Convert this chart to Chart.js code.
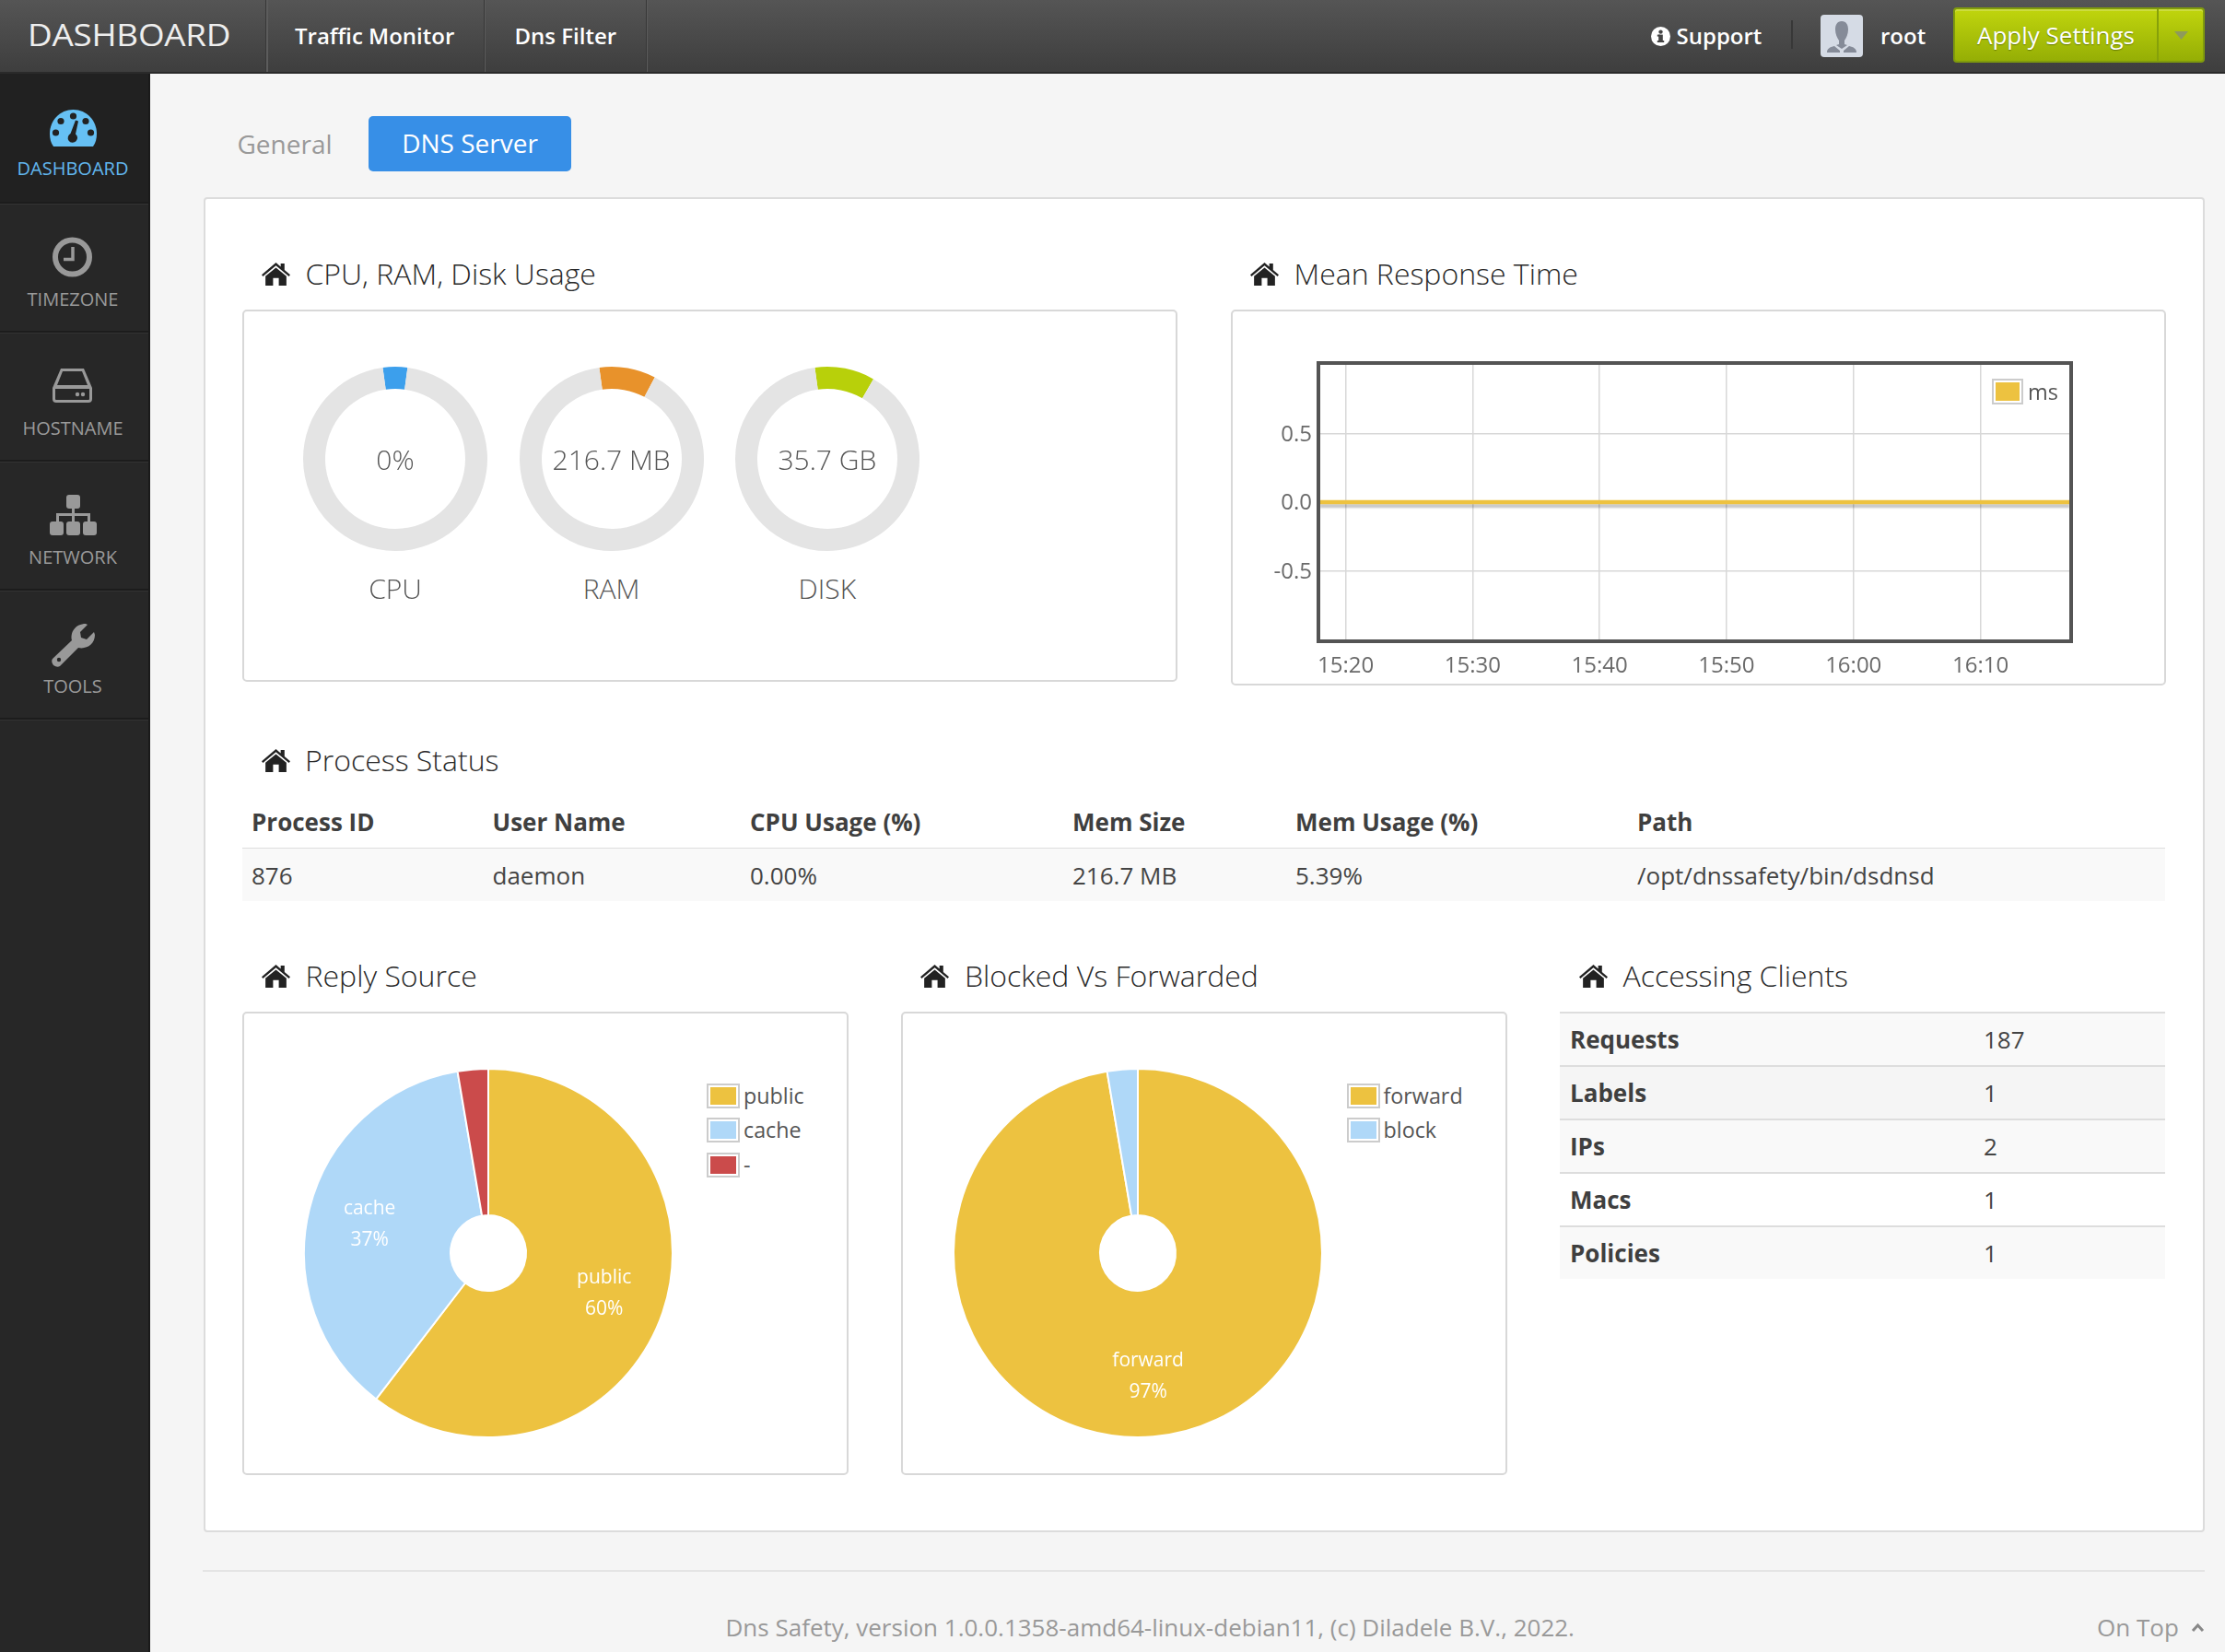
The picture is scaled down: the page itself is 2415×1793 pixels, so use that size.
<!DOCTYPE html>
<html><head><meta charset="utf-8">
<script src="https://cdn.jsdelivr.net/npm/chart.js@4"></script>
<style>
html,body{margin:0;padding:0;width:2415px;height:1793px;overflow:hidden;background:#f5f5f5;font-family:"Open Sans",sans-serif;}
#root{position:absolute;left:0;top:0;width:2415px;height:1793px;overflow:hidden;}
.b{position:absolute;box-sizing:border-box;}
.t{position:absolute;white-space:nowrap;line-height:1;}
canvas{position:absolute;display:block;}
svg{position:absolute;overflow:visible;}
.panel{position:absolute;box-sizing:border-box;background:#fff;border:2px solid #d8d8d8;border-radius:5px;}
.sw{position:absolute;box-sizing:border-box;border:2.5px solid #ccc;padding:2px;background:#fff;}
.sw i{display:block;width:100%;height:100%;}
</style></head><body><div id="root"></div>
<script>
// ---------- data ----------
const gaugeNames = ["CPU","RAM","DISK"];
const gaugeTexts = ["0%","216.7 MB","35.7 GB"];
const gaugeFill = [4.3,9.9,10.5];
const gaugeColors = ["#3c9fec","#e8922b","#b8d00a"];
const responseMinutes = [918,925,935,945,955,965,977];
const responseMs = [0,0,0,0,0,0,0];
const responseTicks = [920,930,940,950,960,970];
const responseTickLabels = ["15:20","15:30","15:40","15:50","16:00","16:10"];
const responseYTicks = [-0.5,0,0.5];
const replyLabels = ["public","cache","-"];
const replyValues = [113,69,5];
const blockLabels = ["forward","block"];
const blockValues = [182,5];
const processHeaders = ["Process ID","User Name","CPU Usage (%)","Mem Size","Mem Usage (%)","Path"];
const processRow = ["876","daemon","0.00%","216.7 MB","5.39%","/opt/dnssafety/bin/dsdnsd"];
const clientKeys = ["Requests","Labels","IPs","Macs","Policies"];
const clientValues = ["187","1","2","1","1"];
const navItems = ["Traffic Monitor","Dns Filter"];
const sideItems = ["DASHBOARD","TIMEZONE","HOSTNAME","NETWORK","TOOLS"];
const pieColors = ["#edc240","#afd8f8","#cb4b4b"];

// ---------- page helpers ----------
const root = document.getElementById('root');
function box(l,t,w,h,css){const d=document.createElement('div');d.className='b';d.style.cssText=`left:${l}px;top:${t}px;width:${w}px;height:${h}px;`+(css||'');root.appendChild(d);return d;}
function text(s,x,cy,size,color,weight,align,extra){
  const d=document.createElement('div');d.className='t';d.textContent=s;
  const tx=align==='c'?'-50%':align==='r'?'-100%':'0';
  d.style.cssText=`left:${x}px;top:${cy}px;font-size:${size}px;color:${color};font-weight:${weight||400};transform:translate(${tx},-50%);`+(extra||'');
  root.appendChild(d);return d;}
function svg(l,t,w,h,vb,inner){const n=document.createElement('div');n.innerHTML=`<svg style="left:${l}px;top:${t}px" width="${w}" height="${h}" viewBox="${vb}" preserveAspectRatio="none">${inner}</svg>`;root.appendChild(n.firstChild);}
function house(x,y){svg(x,y,31,25,"0 0 30 24",'<path fill="#222" d="M15 0L20 4.2V1H24V7.6L30 12.6L28.6 14.3L15 3L1.4 14.3L0 12.6Z"/><path fill="#222" d="M15 5.2L26 14.2V24H18V16H12V24H4V14.2Z"/>');}
function panel(l,t,r,b){const d=document.createElement('div');d.className='panel';d.style.cssText=`left:${l}px;top:${t}px;width:${r-l}px;height:${b-t}px;`;root.appendChild(d);}
function swatch(l,t,w,h,c){const d=document.createElement('div');d.className='sw';d.style.cssText=`left:${l}px;top:${t}px;width:${w}px;height:${h}px;`;const i=document.createElement('i');i.style.background=c;d.appendChild(i);root.appendChild(d);}

// ---------- chrome ----------
box(0,0,2415,78,'background:linear-gradient(#555555,#3e3e3e);');
box(0,78,2415,2,'background:#2a2a2a;');
text("DASHBOARD",30,38,32,'#eeeeee',500,'l','letter-spacing:-0.2px;transform-origin:0 50%;transform:translateY(-50%) scaleX(1.15);');
[289,525.5,701.5].forEach(x=>box(x,0,1.5,78,'background:#5c5c5c;box-shadow:-1px 0 0 #383838;'));
text(navItems[0],320,39,24,'#fff',600);
text(navItems[1],558.5,39,24,'#fff',600);
svg(1792,29,21,21,"0 0 21 21",'<circle cx="10.5" cy="10.5" r="10.5" fill="#fff"/><rect x="8.2" y="8.6" width="4.6" height="8" fill="#444"/><rect x="6.8" y="15" width="7.4" height="2" fill="#444"/><rect x="6.8" y="8.6" width="3" height="2" fill="#444"/><circle cx="10.5" cy="5.6" r="2.2" fill="#444"/>');
text("Support",1819.5,39,24,'#fff',600);
box(1944,22,1.5,31,'background:#383838;');
box(1976,16,46,46,'background:#d5dbe5;border-radius:4px;');
svg(1976,16,46,46,"0 0 46 46",'<path fill="#858b98" d="M23 7c5 0 7 4 7 9s-2 9-4 12v4l3 1 -6 4 -6-4 3-1v-4c-2-3-4-7-4-12s2-9 7-9z"/><path fill="#858b98" d="M7 41c0-4 3-6 8-7l6 5v2zM39 41c0-4-3-6-8-7l-6 5v2z"/>');
text("root",2041,39,24,'#fff',600);
box(2120,8,273,60,'background:linear-gradient(#c0d50d,#95ae05);border:2px solid #7f9a0d;border-radius:4px;box-shadow:inset 0 2px 0 #ccdc40;');
box(2341,10,1.5,56,'background:#86a00a;');
text("Apply Settings",2146,38,26,'#fff',400,'l','text-shadow:0 1px 1px rgba(80,100,0,.7);');
svg(2360,34,15,9,"0 0 15 9",'<path fill="#8e9a5c" d="M0 0H15L7.5 9Z"/>');

// sidebar
box(0,80,163,1713,'background:#272727;border-right:2px solid #1a1a1a;');
box(0,80,161,140,'background:#212121;');
[219,359,499,639,779].forEach(y=>{box(0,y,161,3,'background:#1c1c1c;border-bottom:1px solid #333;');});
const sideY=[183,325,465,605,745];
sideItems.forEach((s,i)=>text(s,79,sideY[i],20,i===0?'#62b7ef':'#9a9a9a',400,'c'));
svg(54,119,51,40,"0 0 51 40",'<path fill="#66c0f4" d="M4 40C1 36 0 31 0 26 0 12 11 0 25.500 0S51 12 51 26c0 5-1 10-4 14Z"/><g fill="#222"><circle cx="25.500" cy="7" r="3.600"/><circle cx="12" cy="12.500" r="3.600"/><circle cx="39" cy="12.500" r="3.600"/><circle cx="6.500" cy="25" r="3.600"/><circle cx="44.500" cy="25" r="3.600"/><path d="M28 11.500L31 12.500L28 26.500A5.200 5.200 0 1 1 22.500 26Z"/></g>');
svg(57,257,43,44,"0 0 43 44",'<circle cx="21.500" cy="22" r="18.500" fill="none" stroke="#999" stroke-width="6"/><path d="M22 11V24.500H12" fill="none" stroke="#999" stroke-width="3.500"/>');
svg(57,400,43,37,"0 0 43 37",'<path fill="#999" d="M9 0H34L43 21V33Q43 37 39 37H4Q0 37 0 33V21ZM11 3L5 18H38L32 3ZM3 22V33Q3 34 4 34H39Q40 34 40 33V22Z" fill-rule="evenodd"/><circle cx="27" cy="28" r="2.200" fill="#999"/><circle cx="33" cy="28" r="2.200" fill="#999"/>');
svg(54,537,51,44,"0 0 51 44",'<g fill="#999"><rect x="18" y="0" width="15" height="15" rx="3"/><rect x="0" y="29" width="15" height="15" rx="3"/><rect x="18" y="29" width="15" height="15" rx="3"/><rect x="36" y="29" width="15" height="15" rx="3"/><path d="M24 15H27V20H44V29H41V23H27V29H24V23H10V29H7V20H24Z"/></g>');
svg(56,677,47,47,"0 0 47 47",'<path fill="#999" d="M1 38L22 18C20 9 26 0 37 0L39 1L31 9L32 15L38 17L46 9L47 12C47 22 38 28 29 26L9 46Q6 48 2 45Q-1 41 1 38Z"/><circle cx="8" cy="39" r="2.200" fill="#272727"/>');

// main
text("General",257.500,155.500,28,'#999999',400);
box(400,126,220,60,'background:#378fe7;border-radius:5px;');
text("DNS Server",510,155,28,'#fff',400,'c');
box(221,214,2171.500,1449,'background:#fff;border:2px solid #dcdcdc;border-radius:4px;');

const titleSize=32, titleCol='#2a2a2a';
function title(s,hx,tx,y){house(hx,y-12);text(s,tx,y,titleSize,titleCol,300);}
title("CPU, RAM, Disk Usage",284,331.500,296.500);
title("Mean Response Time",1356.500,1404.500,296.500);
title("Process Status",284,331,824.500);
title("Reply Source",284,331.500,1059);
title("Blocked Vs Forwarded",998.500,1047,1059);
title("Accessing Clients",1713.500,1761.500,1059);

panel(262.500,336,1278,740);
panel(1336,336,2351,743.500);
panel(263,1098,921,1601);
panel(978,1098,1636,1601);

// process table
const procX=[273,534.500,814,1164,1406,1777];
box(263,919.500,2087,2,'background:#dddddd;');
box(263,921,2087,57,'background:#f9f9f9;');
processHeaders.forEach((s,i)=>text(s,procX[i],892,26,'#3f3f3f',700));
processRow.forEach((s,i)=>text(s,procX[i],950,26,'#444',400));

// client table
const rowTop=[1098,1156,1214,1272,1330];
const rowBg=['#f9f9f9','#f5f5f5','#f9f9f9','#ffffff','#f9f9f9'];
const rowCy=[1127.500,1185.500,1243.500,1301.500,1360];
clientKeys.forEach((s,i)=>{
  box(1693,rowTop[i],657,58,`background:${rowBg[i]};`);
  box(1693,rowTop[i],657,2,'background:#dddddd;');
  text(s,1704,rowCy[i],26,'#3f3f3f',700);
  text(clientValues[i],2153,rowCy[i],26,'#444',400);
});

// footer
box(220,1704,2173,2,'background:#e4e4e4;');
text("Dns Safety, version 1.0.0.1358-amd64-linux-debian11, (c) Diladele B.V., 2022.",787.500,1766,26,'#999',400);
text("On Top",2276,1766,26,'#999',400);
svg(2379,1762,13,9,"0 0 13 9",'<path d="M1 8L6.500 2L12 8" fill="none" stroke="#888" stroke-width="3"/>');

// ---------- charts ----------
function addCanvas(l,t,w,h){const c=document.createElement('canvas');c.width=w;c.height=h;c.style.cssText=`left:${l}px;top:${t}px;width:${w}px;height:${h}px;`;root.appendChild(c);return c;}
Chart.defaults.font.family='"Open Sans",sans-serif';
Chart.defaults.devicePixelRatio=1;

// gauges
const gaugeCx=[429,663.600,897.800];
gaugeNames.forEach((n,i)=>{
  new Chart(addCanvas(gaugeCx[i]-105,498-105,210,210),{type:'doughnut',
    data:{labels:[n,'free'],datasets:[{data:[gaugeFill[i],100-gaugeFill[i]],backgroundColor:[gaugeColors[i],'#e4e4e4'],borderWidth:0}]},
    options:{responsive:false,animation:false,rotation:-7.800,radius:100,cutout:'76%',plugins:{legend:{display:false},tooltip:{enabled:false}}}});
  text(gaugeTexts[i],gaugeCx[i],498.500,30,'#555',300,'c');
  text(n,gaugeCx[i],638.500,30,'#555',300,'c');
});

// response chart
const frame={id:'frame',afterDraw(c){const a=c.chartArea,x=c.ctx;x.save();x.strokeStyle='#545454';x.lineWidth=4;x.strokeRect(a.left-2,a.top-2,a.right-a.left+4,a.bottom-a.top+4);x.restore();}};
const lineShadow={id:'lineShadow',
  beforeDatasetDraw(c){const x=c.ctx;x.save();x.shadowColor='rgba(0,0,0,0.22)';x.shadowOffsetY=4;x.shadowOffsetX=0;x.shadowBlur=2;},
  afterDatasetDraw(c){c.ctx.restore();}};
new Chart(addCanvas(1344,345,990,390),{type:'line',
  data:{datasets:[{label:'ms',data:responseMinutes.map((m,i)=>({x:m,y:responseMs[i]})),borderColor:pieColors[0],borderWidth:4.500,pointRadius:0,tension:0}]},
  options:{responsive:false,animation:false,
    layout:{padding:{left:0,top:51,right:88,bottom:0}},
    plugins:{legend:{display:false},tooltip:{enabled:false}},
    scales:{
      x:{type:'linear',min:918,max:977,
        afterBuildTicks(s){s.ticks=responseTicks.map(v=>({value:v}));},
        afterFit(s){s.height=41;},
        grid:{color:'#d8d8d8',lineWidth:1.500,drawTicks:false},border:{display:false},
        ticks:{autoSkip:false,maxRotation:0,padding:14.500,color:'#6a6a6a',font:{size:24},callback(v){return responseTickLabels[responseTicks.indexOf(v)];}}},
      y:{type:'linear',min:-1,max:1,
        afterBuildTicks(s){s.ticks=responseYTicks.map(v=>({value:v}));},
        afterFit(s){s.width=89;},
        grid:{color:'#d8d8d8',lineWidth:1.500,drawTicks:false},border:{display:false},
        ticks:{padding:9,labelOffset:1.500,color:'#6a6a6a',font:{size:24},callback(v){return v.toFixed(1);}}}
    }},plugins:[lineShadow,frame]});
swatch(2161.500,411,34.500,28,pieColors[0]);
text('ms',2201,425.500,23.500,'#555',400);

// pies
const sliceLabels={id:'sliceLabels',afterDatasetsDraw(c){
  const x=c.ctx,ds=c.data.datasets[0],total=ds.data.reduce((a,b)=>a+b,0);
  x.save();x.fillStyle='#fff';x.font='400 21px "Open Sans"';x.textAlign='center';x.textBaseline='middle';
  c.getDatasetMeta(0).data.forEach((arc,i)=>{
    const pct=ds.data[i]/total*100; if(pct<5) return;
    const p=arc.getProps(['x','y','startAngle','endAngle','outerRadius']);
    const mid=(p.startAngle+p.endAngle)/2,r=p.outerRadius*0.664;
    const cx=p.x+Math.cos(mid)*r,cy=p.y+Math.sin(mid)*r;
    x.fillText(c.data.labels[i],cx,cy-15.700);x.fillText(Math.round(pct)+'%',cx,cy+18.300);
  });x.restore();}};
function pie(cx,cy,labels,values){
  new Chart(addCanvas(cx-205,cy-205,410,410),{type:'doughnut',
    data:{labels,datasets:[{data:values,backgroundColor:pieColors.slice(0,labels.length),borderColor:'#fff',borderWidth:2}]},
    options:{responsive:false,animation:false,radius:200,cutout:'20.5%',plugins:{legend:{display:false},tooltip:{enabled:false}}},
    plugins:[sliceLabels]});
}
pie(530,1359.500,replyLabels,replyValues);
pie(1235,1359.500,blockLabels,blockValues);
const legendTops=[1175.500,1212.500,1250.500];
replyLabels.forEach((s,i)=>{swatch(767,legendTops[i],35.500,27.500,pieColors[i]);text(s,807,legendTops[i]+14,23.300,'#555',400);});
blockLabels.forEach((s,i)=>{swatch(1462,legendTops[i],35.500,27.500,pieColors[i]);text(s,1501.500,legendTops[i]+14,23.300,'#555',400);});
</script></body></html>
